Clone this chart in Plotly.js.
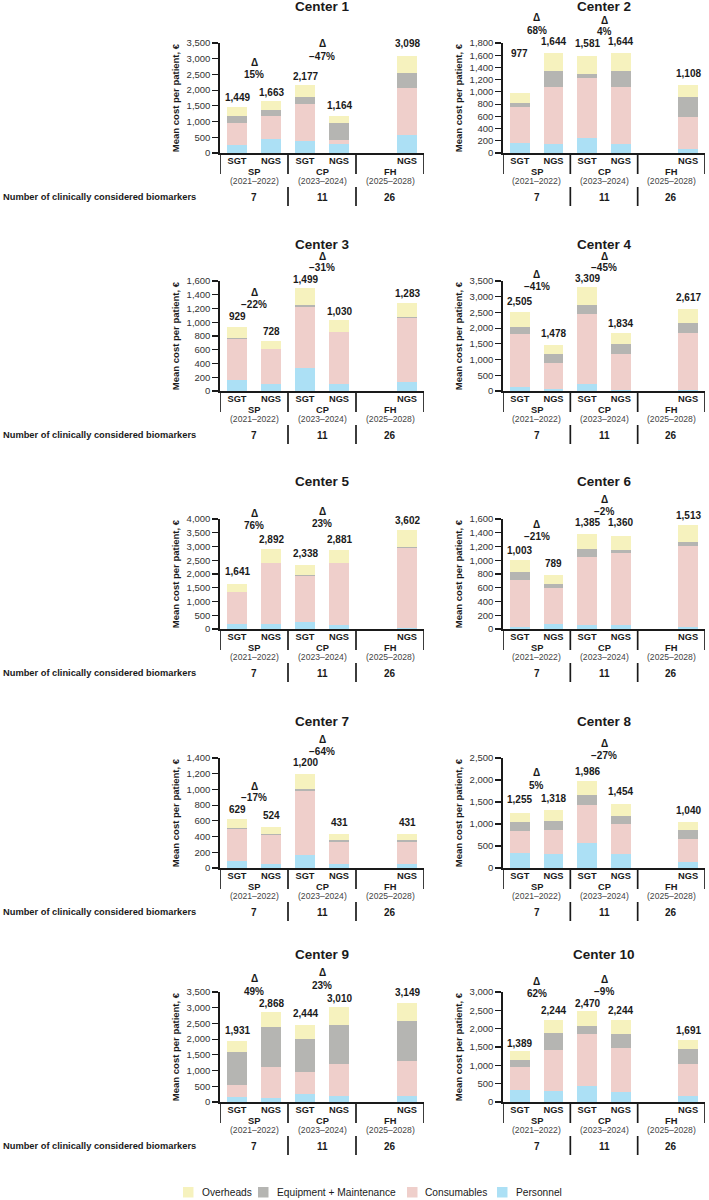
<!DOCTYPE html>
<html><head><meta charset="utf-8">
<script src="https://cdn.plot.ly/plotly-3.0.1.min.js"></script>
<style>html,body{margin:0;padding:0;background:#fff}#chart{width:709px;height:1200px}</style>
</head><body><div id="chart"></div>
<script>
// ---------------- DATA ----------------
const centers = ['Center 1','Center 2','Center 3','Center 4','Center 5','Center 6','Center 7','Center 8','Center 9','Center 10'];
const categories = ['SGT','NGS','SGT','NGS','NGS'];
const groups = ['SP','CP','FH'];
const groupYears = ['(2021–2022)','(2023–2024)','(2025–2028)'];
const biomarkers = ['7','11','26'];
const seriesNames = ['Personnel','Consumables','Equipment + Maintenance','Overheads'];

// one row per center, one value per bar (SP SGT, SP NGS, CP SGT, CP NGS, FH NGS)
const personnel = [
  [270, 440, 380, 280, 560],
  [170, 140, 245, 140, 70],
  [165, 105, 335, 95, 130],
  [140, 70, 230, 30, 20],
  [170, 190, 270, 150, 50],
  [30, 70, 55, 55, 30],
  [90, 55, 160, 50, 50],
  [330, 310, 560, 310, 130],
  [160, 130, 240, 190, 180],
  [320, 310, 450, 260, 170]
];
const consumables = [
  [690, 750, 1170, 140, 1520],
  [580, 940, 985, 940, 515],
  [585, 500, 880, 760, 935],
  [1660, 830, 2230, 1160, 1840],
  [1170, 2210, 1670, 2250, 2910],
  [690, 530, 990, 1045, 1180],
  [410, 360, 820, 285, 285],
  [500, 550, 880, 680, 530],
  [370, 980, 700, 1010, 1140],
  [640, 1110, 1400, 1210, 880]
];
const equipment = [
  [230, 180, 240, 540, 450],
  [70, 260, 70, 260, 330],
  [25, 5, 30, 5, 5],
  [240, 290, 290, 320, 290],
  [10, 10, 10, 10, 10],
  [110, 60, 120, 50, 55],
  [5, 20, 20, 25, 25],
  [210, 210, 220, 200, 200],
  [1070, 1270, 1080, 1260, 1270],
  [190, 450, 210, 390, 390]
];
const overheads = [
  [259, 293, 387, 204, 568],
  [157, 304, 281, 304, 193],
  [154, 118, 254, 170, 213],
  [465, 288, 559, 324, 467],
  [291, 482, 388, 471, 632],
  [173, 129, 220, 210, 248],
  [124, 89, 200, 71, 71],
  [215, 248, 326, 264, 180],
  [331, 488, 424, 550, 559],
  [239, 374, 410, 384, 251]
];
const totals = [
  [1449, 1663, 2177, 1164, 3098],
  [977, 1644, 1581, 1644, 1108],
  [929, 728, 1499, 1030, 1283],
  [2505, 1478, 3309, 1834, 2617],
  [1641, 2892, 2338, 2881, 3602],
  [1003, 789, 1385, 1360, 1513],
  [629, 524, 1200, 431, 431],
  [1255, 1318, 1986, 1454, 1040],
  [1931, 2868, 2444, 3010, 3149],
  [1389, 2244, 2470, 2244, 1691]
];
// percentage change NGS vs SGT: [SP, CP]
const deltas = [
  ['15%','−47%'], ['68%','4%'], ['−22%','−31%'], ['−41%','−45%'], ['76%','23%'],
  ['−21%','−2%'], ['−17%','−64%'], ['5%','−27%'], ['49%','23%'], ['62%','−9%']
];
const yMax  = [3500, 1800, 1600, 3500, 4000, 1600, 1400, 2500, 3500, 3000];
const yStep = [500, 200, 200, 500, 500, 200, 200, 500, 500, 500];

// ---------------- LAYOUT / STYLE ----------------
const colors = ['#ACE0F5', '#EFCFCB', '#B5B5B2', '#F6F2BE'];
const FONT = 'Liberation Sans, Arial, Helvetica, sans-serif';
const INK = '#1a1a1a';
const W = 709, H = 1200;
const colX = [[220, 424], [503, 705]];
const rowZero = [153, 391, 629, 868, 1102];
const plotH = 110;
const xPos = [0, 1, 2, 3, 5];
const xRange = [-0.5, 5.5];
const groupCenters = [0.5, 2.5, 4.5];
const sepX = [-0.5, 1.5, 3.5, 5.5];
const bioSepX = [1.5, 3.5];
const deltaX = [0.5, 2.5];
// vertical placement (data units) of value labels and delta labels, as in the figure
const labelLevels = [
  [1760, 1760, 2252, 1526, 3500],
  [1624, 1827, 1800, 1827, 1295],
  [1089, 866, 1619, 1162, 1425],
  [2857, 1837, 3595, 2159, 2964],
  [2074, 3257, 2745, 3257, 3941],
  [1142, 949, 1542, 1542, 1648],
  [746, 662, 1337, 578, 578],
  [1559, 1574, 2199, 1732, 1310],
  [2273, 3073, 2828, 3286, 3478],
  [1464, 2500, 2500, 2500, 1954]
];
const deltaLevels = [
  [[2892, 2486], [3479, 3073]],
  [[2211, 2009], [2173, 1981]],
  [[1439, 1255], [1960, 1794]],
  [[3716, 3340], [4280, 3915]],
  [[4209, 3758], [4270, 3819]],
  [[1518, 1349], [1879, 1711]],
  [[1042, 894], [1632, 1484]],
  [[2161, 1875], [2839, 2560]],
  [[3927, 3521], [4108, 3713]],
  [[3300, 2963], [3345, 3027]]
];

const py = p => 1 - p / H;
const series = [personnel, consumables, equipment, overheads];
const traces = [], annotations = [], shapes = [];
const layout = {
  width: W, height: H, margin: {l: 0, r: 0, t: 0, b: 0},
  barmode: 'stack', showlegend: false,
  paper_bgcolor: '#ffffff', plot_bgcolor: 'rgba(0,0,0,0)',
  font: {family: FONT, color: INK}
};

for (let i = 0; i < centers.length; i++) {
  const r = Math.floor(i / 2), c = i % 2;
  const id = i === 0 ? '' : String(i + 1);
  const xa = 'x' + id, ya = 'y' + id;
  const Z = rowZero[r], top = Z - plotH;
  const [x0, x1] = colX[c];
  const toPx = v => Z - v / yMax[i] * plotH;

  layout['xaxis' + id] = {
    domain: [x0 / W, x1 / W], anchor: ya, range: xRange,
    tickmode: 'array', tickvals: xPos, ticktext: categories, ticks: '',
    ticklabelstandoff: -2,
    showline: true, linecolor: INK, linewidth: 1.7, showgrid: false, zeroline: false,
    tickfont: {family: FONT, size: 9.3, color: INK, weight: 'bold'}, fixedrange: true
  };
  layout['yaxis' + id] = {
    domain: [py(Z), py(top)], anchor: xa, range: [0, yMax[i]], dtick: yStep[i],
    tickformat: ',d', ticks: 'outside', ticklen: 6, tickwidth: 1.2, tickcolor: INK,
    showline: true, linecolor: INK, linewidth: 1.7, showgrid: false, zeroline: false,
    tickfont: {family: FONT, size: 9.5, color: '#333'}, fixedrange: true,
    title: {text: 'Mean cost per patient, €', standoff: 5,
            font: {family: FONT, size: 9.5, color: INK, weight: 'bold'}}
  };

  series.forEach((s, k) => {
    traces.push({
      type: 'bar', name: seriesNames[k], x: xPos, y: s[i], xaxis: xa, yaxis: ya,
      width: 0.59, marker: {color: colors[k], line: {width: 0}},
      hoverinfo: 'name+y', showlegend: false
    });
  });

  // title
  annotations.push({xref: 'paper', yref: 'paper', x: (x0 + x1) / 2 / W, y: py(Z - 147),
    text: centers[i], showarrow: false, xanchor: 'center', yanchor: 'middle',
    font: {family: FONT, size: 13.5, color: INK, weight: 'bold'}});

  // value labels
  totals[i].forEach((t, j) => {
    let lp = toPx(labelLevels[i][j]);
    lp = Math.min(lp, toPx(t) - 8);
    annotations.push({xref: xa, yref: 'paper', x: xPos[j], y: py(lp),
      text: t.toLocaleString('en-US'), showarrow: false, xanchor: 'center', yanchor: 'middle',
      font: {family: FONT, size: 10, color: INK, weight: 'bold'}});
  });

  // deltas
  deltas[i].forEach((d, j) => {
    const [lvD, lvP] = deltaLevels[i][j];
    annotations.push({xref: xa, yref: 'paper', x: deltaX[j], y: py(toPx(lvD)), text: 'Δ',
      showarrow: false, xanchor: 'center', yanchor: 'middle',
      font: {family: FONT, size: 10, color: INK, weight: 'bold'}});
    annotations.push({xref: xa, yref: 'paper', x: deltaX[j], y: py(toPx(lvP)), text: d,
      showarrow: false, xanchor: 'center', yanchor: 'middle',
      font: {family: FONT, size: 10, color: INK, weight: 'bold'}});
  });

  // group labels
  groups.forEach((g, j) => {
    annotations.push({xref: xa, yref: 'paper', x: groupCenters[j], y: py(Z + 18.5), text: g,
      showarrow: false, xanchor: 'center', yanchor: 'middle',
      font: {family: FONT, size: 9.3, color: INK, weight: 'bold'}});
    annotations.push({xref: xa, yref: 'paper', x: groupCenters[j], y: py(Z + 28), text: groupYears[j],
      showarrow: false, xanchor: 'center', yanchor: 'middle',
      font: {family: FONT, size: 8.6, color: '#444'}});
    annotations.push({xref: xa, yref: 'paper', x: groupCenters[j], y: py(Z + 44), text: biomarkers[j],
      showarrow: false, xanchor: 'center', yanchor: 'middle',
      font: {family: FONT, size: 10, color: INK, weight: 'bold'}});
  });
  if (c === 0) {
    annotations.push({xref: 'paper', yref: 'paper', x: 1 / W, y: py(Z + 44),
      text: 'Number of clinically considered biomarkers', showarrow: false,
      xanchor: 'left', yanchor: 'middle',
      font: {family: FONT, size: 9.3, color: INK, weight: 'bold'}});
  }

  // separators
  sepX.forEach(sx => shapes.push({type: 'line', xref: xa, yref: 'paper', x0: sx, x1: sx,
    y0: py(Z), y1: py(Z + 21), line: {color: INK, width: 1.7}}));
  bioSepX.forEach(sx => shapes.push({type: 'line', xref: xa, yref: 'paper', x0: sx, x1: sx,
    y0: py(Z + 34), y1: py(Z + 53), line: {color: INK, width: 1.7}}));
}

// legend (drawn order as in the figure)
const legendOrder = [3, 2, 1, 0];
const legendBoxX = [183, 258, 407, 497];
const legendY = 1192;
legendOrder.forEach((k, j) => {
  shapes.push({type: 'rect', xref: 'paper', yref: 'paper',
    x0: legendBoxX[j] / W, x1: (legendBoxX[j] + 10.5) / W,
    y0: py(legendY + 5.5), y1: py(legendY - 5), fillcolor: colors[k], line: {width: 0}});
  annotations.push({xref: 'paper', yref: 'paper', x: (legendBoxX[j] + 16.5) / W, y: py(legendY),
    text: seriesNames[k], showarrow: false, xanchor: 'left', yanchor: 'middle',
    font: {family: FONT, size: 10.2, color: INK}});
});

layout.annotations = annotations;
layout.shapes = shapes;
Plotly.newPlot('chart', traces, layout, {displayModeBar: false, staticPlot: true});
</script>
</body></html>
